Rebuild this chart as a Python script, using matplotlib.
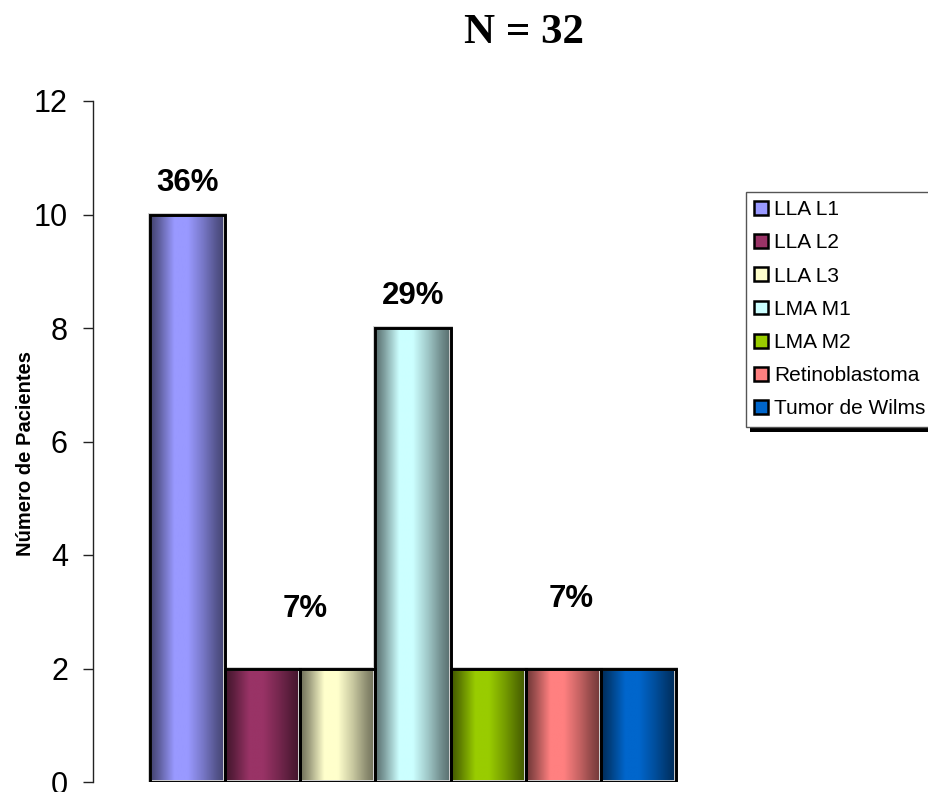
import numpy as np
import matplotlib
matplotlib.use("Agg")
import matplotlib.pyplot as plt
from matplotlib.patches import Patch, Rectangle
from matplotlib.colors import to_rgb

# --- data -------------------------------------------------------------
categories = ["LLA L1", "LLA L2", "LLA L3", "LMA M1", "LMA M2",
              "Retinoblastoma", "Tumor de Wilms"]
patients = [10, 2, 2, 8, 2, 2, 2]
colors = ["#9999FF", "#993366", "#FFFFCC", "#CCFFFF", "#99CC00",
          "#FF8080", "#0066CC"]
title_text = "N = 32"
y_label = "Número de Pacientes"
y_ticks = [0, 2, 4, 6, 8, 10, 12]

# percentage labels: (x position, bar the share refers to, vertical offset in pt)
pct_labels = [(0.0, 0, 23), (1.57, 1, 43), (3.0, 3, 23), (5.1, 5, 50)]

total = sum(patients)

plt.rcParams["font.family"] = ["Liberation Sans", "DejaVu Sans"]

fig = plt.figure(figsize=(9.29, 7.92), dpi=100)
W, H = 929, 792
ax = fig.add_axes([93 / W, 1 - 782 / H, (733 - 93) / W, (782 - 101) / H])

# horizontal shading profile giving the bars a cylindrical look
t = np.linspace(0, 1, 200)
shade = np.interp(t, [0.0, 0.12, 0.32, 0.5, 0.7, 0.88, 1.0],
                  [0.42, 0.62, 1.0, 1.0, 0.78, 0.55, 0.42])

x = np.arange(len(categories))
bars = ax.bar(x, patients, width=1.0, color=colors, edgecolor="none", zorder=2)
for b, c in zip(bars, colors):
    rgb = np.array(to_rgb(c))
    grad = (shade[:, None] * rgb[None, :])[None, :, :]
    x0 = b.get_x()
    im = ax.imshow(grad, extent=[x0, x0 + b.get_width(), 0, b.get_height()],
                   aspect="auto", zorder=3, interpolation="bilinear")
    im.set_clip_path(b)
    ax.add_patch(Rectangle((x0, 0), b.get_width(), b.get_height(),
                           fill=False, edgecolor="#cfcfcf", linewidth=2.8,
                           zorder=3.5))
    ax.add_patch(Rectangle((x0, 0), b.get_width(), b.get_height(),
                           fill=False, edgecolor="black", linewidth=2.1,
                           zorder=4))

ax.set_xlim(-0.5 - 0.76, len(categories) - 0.5 + 0.76)
ax.set_ylim(0, 12)
ax.set_yticks(y_ticks)
ax.set_xticks([])
ax.tick_params(axis="y", direction="out", length=7, width=1,
               pad=11, labelsize=22, color="#222222")
for side in ("top", "right", "bottom"):
    ax.spines[side].set_visible(False)
ax.spines["left"].set_linewidth(1)
ax.spines["left"].set_color("#222222")

for xpos, idx, off in pct_labels:
    pct = round(100 * patients[idx] / total)
    ax.annotate(f"{pct}%", (xpos, patients[idx]), xytext=(0, off),
                textcoords="offset points", ha="center", va="center",
                fontsize=22.5, fontweight="bold", zorder=5)

fig.text(26 / W, 1 - 454 / H, y_label, rotation=90, ha="center",
         va="center", fontsize=14.5, fontweight="bold")

fig.text(524 / W, 1 - 43 / H, title_text, ha="center", va="baseline",
         fontsize=31, fontweight="bold",
         family=["Liberation Serif", "DejaVu Serif"])

handles = [Patch(facecolor=c, edgecolor="black", linewidth=1.8) for c in colors]
leg = fig.legend(handles, categories, loc="upper left",
                 bbox_to_anchor=(746 / W, 1 - 192 / H),
                 bbox_transform=fig.transFigure, borderaxespad=0,
                 fontsize=15, frameon=True, fancybox=False,
                 framealpha=1, edgecolor="#555555", borderpad=0.4,
                 handlelength=0.64, handleheight=0.64, handletextpad=0.3,
                 labelspacing=0.68)
leg.get_frame().set_linewidth(1)
leg.set_zorder(10)

# solid drop shadow under the legend box
fig.canvas.draw()
bb = leg.get_window_extent().transformed(fig.transFigure.inverted())
dx, dy = 4 / W, 5 / H
fig.patches.append(Rectangle((bb.x0 + dx, bb.y0 - dy), bb.width, bb.height,
                             transform=fig.transFigure, facecolor="black",
                             edgecolor="none", zorder=9))

fig.savefig("out.png", dpi=100)
